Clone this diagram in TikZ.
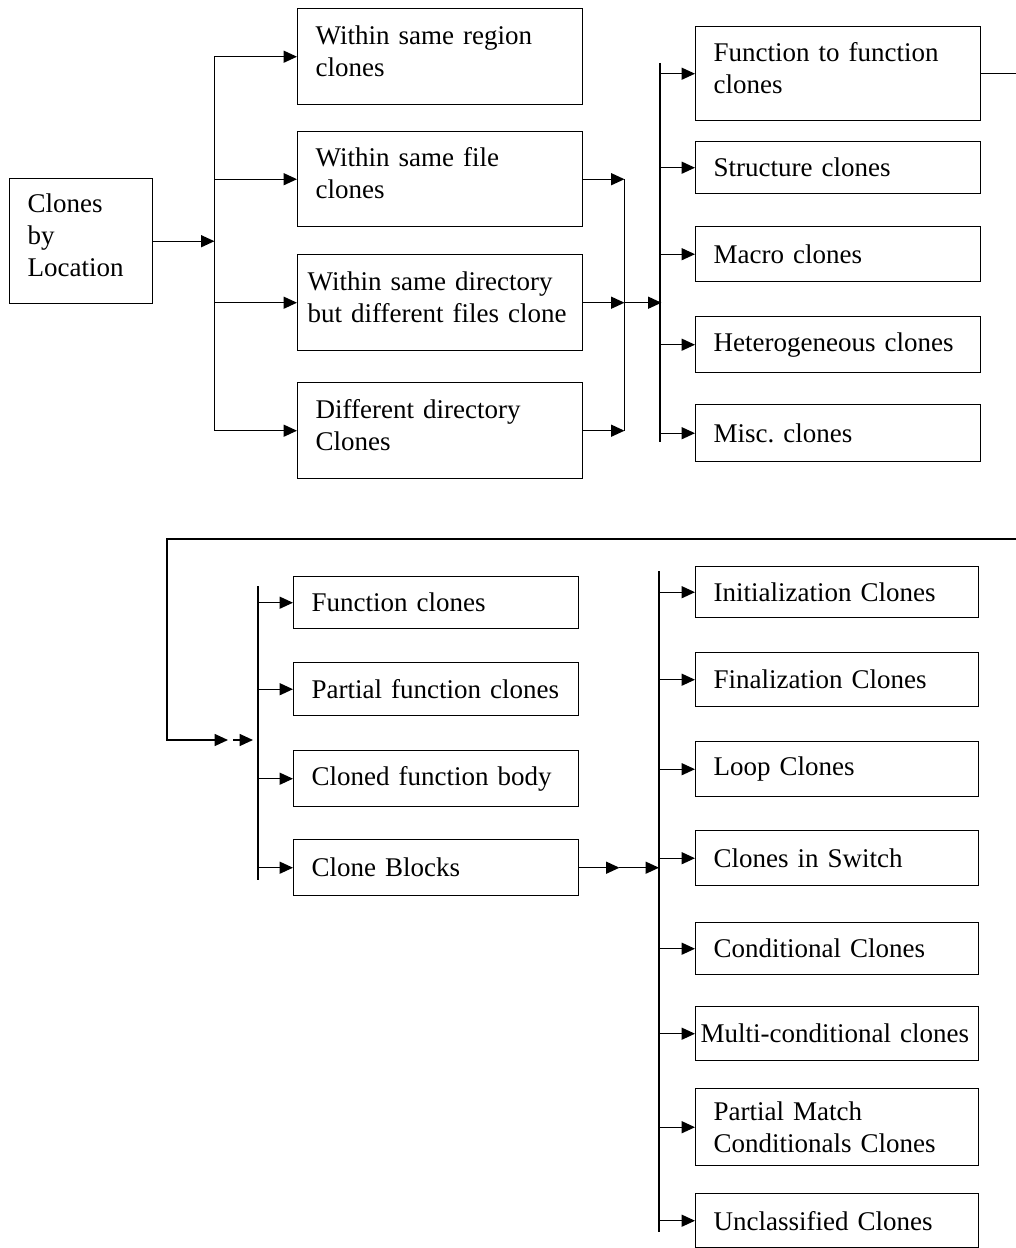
\documentclass[tikz,border=0pt]{standalone}
\usepackage{fontspec}
\setmainfont{Liberation Serif}
\usetikzlibrary{arrows.meta}

\begin{document}
\frenchspacing
\begin{tikzpicture}[%
    x=0.025cm, y=-0.025cm,
    line width=1pt,
    >={Triangle[length=9.5pt,width=8.5pt]},
    box/.style={draw,anchor=north west,inner xsep=0.45cm,inner ysep=0pt,
        text width=6.225cm,align=left,font=\fontsize{19.2}{22.8}\selectfont},
    tall/.style={execute at end node={\rule[-8.5pt]{0pt}{8.5pt}}},
    kind/.style={box,text width=6.175cm}
]
        \useasboundingbox (0,0) rectangle (1016,1248);
        \clip (0,0) rectangle (1016,1248);

        % location
        \node[box,tall,text width=2.675cm,minimum height=3.125cm] (loc) at (9,178) {Clones\\by\\Location};
        \node[box,tall,minimum height=2.4cm] (r1) at (297,8) {Within same region\\clones};
        \node[box,tall,minimum height=2.375cm] (r2) at (297,131) {Within same file\\clones};
        \node[box,tall,inner xsep=0.25cm,text width=6.625cm,minimum height=2.4cm] (r3) at (297,254) {Within same directory\\but different files clone};
        \node[box,tall,minimum height=2.4cm] (r4) at (297,382) {Different directory\\Clones};

        % type
        \node[box,tall,minimum height=2.35cm] (t1) at (695,26) {Function to function\\clones};
        \node[box,minimum height=1.3cm] (t2) at (695,141) {Structure clones};
        \node[box,minimum height=1.375cm] (t3) at (695,226) {Macro clones};
        \node[box,minimum height=1.4cm] (t4) at (695,316) {Heterogeneous clones};
        \node[box,minimum height=1.425cm] (t5) at (695,404) {Misc. clones};

        % function level
        \node[box,minimum height=1.3cm] (f1) at (293,576) {Function clones};
        \node[box,minimum height=1.325cm] (f2) at (293,662) {Partial function clones};
        \node[box,minimum height=1.4cm] (f3) at (293,750) {Cloned function body};
        \node[box,minimum height=1.4cm] (f4) at (293,839) {Clone Blocks};

        % block kinds
        \node[kind,minimum height=1.275cm] (k1) at (695,566) {Initialization Clones};
        \node[kind,minimum height=1.35cm] (k2) at (695,652) {Finalization Clones};
        \node[kind,minimum height=1.375cm] (k3) at (695,741) {Loop Clones};
        \node[kind,minimum height=1.375cm] (k4) at (695,830) {Clones in Switch};
        \node[kind,minimum height=1.3cm] (k5) at (695,922) {Conditional Clones};
        \node[kind,inner xsep=0.125cm,text width=6.825cm,minimum height=1.35cm] (k6) at (695,1006) {Multi-conditional clones};
        \node[kind,minimum height=1.925cm] (k7) at (695,1088) {Partial Match\\Conditionals Clones};
        \node[kind,minimum height=1.35cm] (k8) at (695,1193) {Unclassified Clones};

        % fan out
        \path (loc.east) ++(61,0) coordinate (j1);
        \draw[->] (loc.east) -- (j1);
        \draw (j1 |- r1.west) -- (j1 |- r4.west);
        \foreach \n in {r1,r2,r3,r4}
            \draw[->] (j1 |- \n.west) -- (\n.west);

        % merge
        \path (r3.east) ++(41,0) coordinate (j2);
        \path (j2) ++(37,0) coordinate (j3);
        \draw (j2 |- r2.east) -- (j2 |- r4.east);
        \foreach \n in {r2,r3,r4}
            \draw[->] (\n.east) -- (j2 |- \n.east);
        \draw[->] (j2) -- (j3);
        \coordinate (j3top) at (660,63);
        \coordinate (j3bot) at (660,442);
        \draw (j3top) -- (j3bot);
        \foreach \n in {t1,t2,t3,t4,t5}
            \draw[->] (j3top |- \n.west) -- (\n.west);

        % feedback
        \coordinate (fb) at (1030,539);
        \coordinate (j4) at (167,740);
        \coordinate (fbend) at (228,740);
        \draw[->] (t1.east) -| (fb) -| (j4) -- (fbend);
        \coordinate (s1) at (233,740);
        \coordinate (s2) at (253,740);
        \draw[->] (s1) -- (s2);
        \coordinate (j5top) at (258,586);
        \coordinate (j5bot) at (258,880);
        \draw (j5top) -- (j5bot);
        \foreach \n in {f1,f2,f3,f4}
            \draw[->] (j5top |- \n.west) -- (\n.west);

        % blocks
        \path (f4.east) ++(40,0) coordinate (m1);
        \coordinate (j6top) at (659,571);
        \coordinate (j6bot) at (659,1232);
        \draw[->] (f4.east) -- (m1);
        \draw[->] (m1) -- (j6top |- m1);
        \draw (j6top) -- (j6bot);
        \foreach \n in {k1,k2,k3,k4,k5,k6,k7,k8}
            \draw[->] (j6top |- \n.west) -- (\n.west);
\end{tikzpicture}
\end{document}
